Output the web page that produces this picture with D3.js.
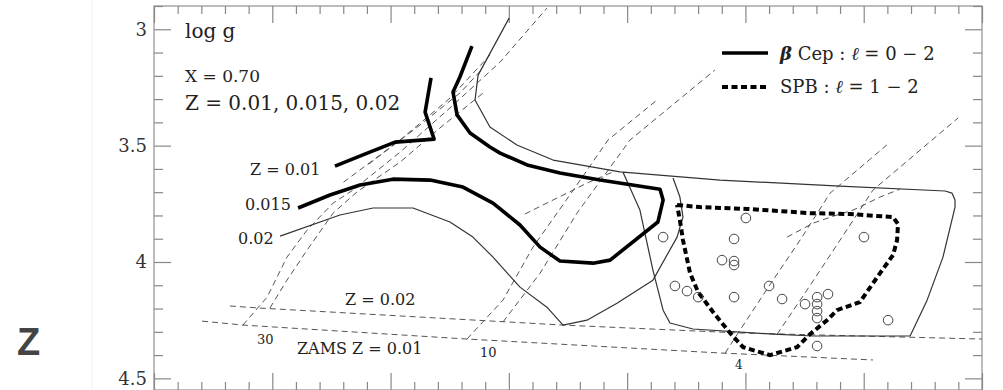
<!DOCTYPE html>
<html><head><meta charset="utf-8">
<script src="https://cdn.jsdelivr.net/npm/d3@7"></script>
<style>
html,body{margin:0;padding:0;background:#fff;}
svg{display:block;}
</style></head>
<body>
<svg id="chart" width="1003" height="390"></svg>
<script>
// ---- data (log Teff, log g) ----
const yMajorTicks = [3, 3.5, 4, 4.5];
const yTickLabels = ["3", "3.5", "4", "4.5"];
const xMajorTicks = [4.5, 4.45, 4.4, 4.35, 4.3, 4.25, 4.2, 4.15];

// beta Cep instability domains (l = 0-2), thick solid
const betaCepZ010 = [[4.4235,3.588],[4.4117,3.540],[4.3981,3.485],[4.3816,3.472],[4.3854,3.356],[4.3829,3.209]];
const betaCepZ015 = [[4.4391,3.768],[4.4256,3.712],[4.4129,3.669],[4.3990,3.644],[4.3833,3.648],[4.3694,3.678],[4.3567,3.747],[4.3453,3.841],[4.3368,3.936],[4.3284,3.996],[4.3144,4.005],[4.3072,3.992],[4.2870,3.828],[4.2848,3.734],[4.2861,3.687],[4.3115,3.648],[4.3284,3.618],[4.3423,3.583],[4.3537,3.532],[4.3580,3.506],[4.3664,3.446],[4.3719,3.368],[4.3736,3.270],[4.3707,3.205],[4.3656,3.072]];
// Z = 0.02 domains, thin solid
const betaCepZ020 = [[4.4467,3.889],[4.4214,3.798],[4.4074,3.768],[4.3905,3.768],[4.3749,3.828],[4.3652,3.893],[4.3567,3.979],[4.3453,4.108],[4.3339,4.194],[4.3271,4.271],[4.3170,4.250],[4.3043,4.177],[4.2891,4.078],[4.2789,3.893],[4.2764,3.807],[4.2777,3.721],[4.2806,3.639]];
const thinZ020Outer = [[4.3499,2.952],[4.3630,3.197],[4.3643,3.304],[4.3580,3.420],[4.3466,3.497],[4.3313,3.562],[4.3030,3.613],[4.2607,3.648],[4.2100,3.674],[4.1656,3.695],[4.1627,3.704],[4.1614,3.734],[4.1614,3.764],[4.1665,3.979],[4.1732,4.164],[4.1804,4.318],[4.2214,4.318],[4.2383,4.310],[4.2722,4.288],[4.2819,4.262],[4.2848,4.207],[4.2891,4.035],[4.2946,3.777],[4.3018,3.613]];
// SPB domain (l = 1-2), thick dashed
const spbDomain = [[4.2789,3.755],[4.2692,3.764],[4.2493,3.772],[4.2227,3.790],[4.2058,3.794],[4.1876,3.807],[4.1855,3.837],[4.1859,3.906],[4.1876,3.970],[4.1931,4.048],[4.2016,4.172],[4.2113,4.207],[4.2155,4.250],[4.2227,4.310],[4.2282,4.366],[4.2396,4.400],[4.2510,4.366],[4.2565,4.305],[4.2637,4.215],[4.2700,4.129],[4.2734,4.048],[4.2764,3.906],[4.2777,3.820],[4.2789,3.755]];
// ZAMS lines
const zamsZ010 = [[4.4797,4.254],[4.4624,4.271],[4.3677,4.331],[4.2607,4.391],[4.1961,4.421]];
const zamsZ020 = [[4.4679,4.189],[4.4552,4.198],[4.3271,4.271],[4.2523,4.305],[4.1500,4.331]];
// evolutionary tracks (dashed)
const track30a = [[4.4624,4.271],[4.4522,4.151],[4.4438,3.979],[4.4353,3.863],[4.4243,3.747],[4.4159,3.691],[4.3960,3.528],[4.3749,3.338],[4.3537,3.141],[4.3339,2.909]];
const track30b = [[4.4510,4.198],[4.4438,4.078],[4.4353,3.949],[4.4243,3.790],[4.4142,3.699],[4.3960,3.571],[4.3791,3.424],[4.3609,3.274]];
const track30c = [[4.4199,3.657],[4.3960,3.476],[4.3749,3.296],[4.3580,3.111]];
const track30d = [[4.4093,3.580],[4.3876,3.412],[4.3707,3.274],[4.3609,3.167]];
const track10a = [[4.3677,4.331],[4.3525,4.164],[4.3398,3.936],[4.3242,3.712],[4.3081,3.476],[4.2874,3.304]];
const track10b = [[4.3525,4.258],[4.3368,4.048],[4.3212,3.790],[4.2988,3.476],[4.2629,3.175]];
const hook10 = [[4.3432,3.794],[4.3356,3.755],[4.3254,3.704],[4.3170,3.661],[4.3060,3.613]];
const track4a = [[4.2586,4.391],[4.2523,4.293],[4.2400,4.103],[4.2269,3.906],[4.2142,3.704],[4.1902,3.497]];
const track4b = [[4.2366,4.310],[4.2240,4.121],[4.2100,3.906],[4.1961,3.691],[4.1601,3.381]];
const hook4 = [[4.2324,3.893],[4.2214,3.833],[4.2113,3.798],[4.2045,3.777],[4.1931,3.721],[4.1847,3.687]];
// observed stars (open circles)
const stars = [[4.2848,3.893],[4.2498,3.811],[4.2548,3.901],[4.2599,3.992],[4.2548,3.996],[4.2548,4.013],[4.2798,4.103],[4.2747,4.125],[4.2700,4.151],[4.2548,4.151],[4.2400,4.103],[4.2345,4.159],[4.2248,4.181],[4.2197,4.151],[4.2197,4.181],[4.2197,4.211],[4.2197,4.241],[4.2151,4.138],[4.1999,3.893],[4.1897,4.250],[4.2197,4.361]];

// ---- drawing ----
const svg = d3.select("#chart");
const L = 154, R = 982, T = 6, B = 390;
const x = d3.scaleLinear().domain([4.5, 4.15]).range([L, R]);
const y = d3.scaleLinear().domain([2.9, 4.55]).range([T, B]);
const serif = "'DejaVu Serif', serif";

// faint page edge + big Z
svg.append("line").attr("x1", 92).attr("x2", 92).attr("y1", 0).attr("y2", 390)
  .attr("stroke", "#f0f0f0").attr("stroke-width", 1);
svg.append("text").attr("x", 17).attr("y", 355).text("Z")
  .attr("font-family", "'Liberation Sans', Arial, sans-serif").attr("font-weight", "bold")
  .attr("font-size", 38).attr("fill", "#444");

// frame
svg.append("rect").attr("x", L).attr("y", T).attr("width", R - L).attr("height", B - T)
  .attr("fill", "none").attr("stroke", "#999").attr("stroke-width", 1.3);

const yMinor = d3.range(30, 455, 10).map(v => v / 100).filter(v => !yMajorTicks.includes(v));
const xMinor = d3.range(415, 450, 1).map(v => v / 100).filter(v => !xMajorTicks.some(m => Math.abs(m - v) < 1e-9));

function styleAxis(g) {
  g.select(".domain").remove();
  g.selectAll(".tick line").attr("stroke", "#888").attr("stroke-width", 1.2);
  g.selectAll(".tick text").attr("font-family", serif).attr("font-size", 18).attr("fill", "#333");
}
const fmt = d => yTickLabels[yMajorTicks.indexOf(d)];
svg.append("g").attr("transform", `translate(${L},0)`)
  .call(d3.axisLeft(y).tickValues(yMajorTicks).tickSize(-17).tickPadding(7).tickFormat(fmt)).call(styleAxis);
svg.append("g").attr("transform", `translate(${L},0)`)
  .call(d3.axisLeft(y).tickValues(yMinor).tickSize(-9).tickFormat("")).call(styleAxis);
svg.append("g").attr("transform", `translate(${R},0)`)
  .call(d3.axisRight(y).tickValues(yMajorTicks).tickSize(-17).tickFormat("")).call(styleAxis);
svg.append("g").attr("transform", `translate(${R},0)`)
  .call(d3.axisRight(y).tickValues(yMinor).tickSize(-9).tickFormat("")).call(styleAxis);
svg.append("g").attr("transform", `translate(0,${T})`)
  .call(d3.axisTop(x).tickValues(xMajorTicks).tickSize(-17).tickFormat("")).call(styleAxis);
svg.append("g").attr("transform", `translate(0,${T})`)
  .call(d3.axisTop(x).tickValues(xMinor).tickSize(-8).tickFormat("")).call(styleAxis);
svg.append("g").attr("transform", `translate(0,${B})`)
  .call(d3.axisBottom(x).tickValues(xMajorTicks).tickSize(-17).tickFormat("")).call(styleAxis);
svg.append("g").attr("transform", `translate(0,${B})`)
  .call(d3.axisBottom(x).tickValues(xMinor).tickSize(-8).tickFormat("")).call(styleAxis);

const line = d3.line().x(d => x(d[0])).y(d => y(d[1]));
const plot = svg.append("g");

// dashed thin lines
[zamsZ010, zamsZ020, track30a, track30b, track30c, track30d, track10a, track10b, hook10, track4a, track4b, hook4]
  .forEach(d => plot.append("path").attr("d", line(d)).attr("fill", "none")
    .attr("stroke", "#555").attr("stroke-width", 1).attr("stroke-dasharray", "6,4"));

// thin solid
[betaCepZ020, thinZ020Outer].forEach(d => plot.append("path").attr("d", line(d)).attr("fill", "none")
  .attr("stroke", "#333").attr("stroke-width", 1.2).attr("stroke-linejoin", "round"));

// thick solid
[betaCepZ010, betaCepZ015].forEach(d => plot.append("path").attr("d", line(d)).attr("fill", "none")
  .attr("stroke", "#000").attr("stroke-width", 3.6).attr("stroke-linejoin", "round"));

// SPB thick dashed
plot.append("path").attr("d", line(spbDomain)).attr("fill", "none")
  .attr("stroke", "#000").attr("stroke-width", 4).attr("stroke-dasharray", "6,3.5");

// stars
plot.selectAll("circle.star").data(stars).join("circle").attr("class", "star")
  .attr("cx", d => x(d[0])).attr("cy", d => y(d[1])).attr("r", 4.8)
  .attr("fill", "none").attr("stroke", "#444").attr("stroke-width", 1);

// annotations
function txt(xp, yp, s, size) {
  return svg.append("text").attr("x", xp).attr("y", yp).text(s)
    .attr("font-family", serif).attr("font-size", size).attr("fill", "#222");
}
txt(185, 38, "log g", 20);
txt(185, 82, "X = 0.70", 17);
txt(185, 110, "Z = 0.01, 0.015, 0.02", 20);
txt(250, 175, "Z = 0.01", 16);
txt(245, 210, "0.015", 16);
txt(238, 244, "0.02", 16);
txt(345, 305, "Z = 0.02", 16);
txt(257, 344, "30", 13);
txt(297, 354, "ZAMS  Z = 0.01", 16);
txt(480, 357, "10", 13);
txt(735, 369, "4", 12);

// legend
svg.append("line").attr("x1", 722).attr("x2", 768).attr("y1", 53).attr("y2", 53)
  .attr("stroke", "#000").attr("stroke-width", 3.6);
svg.append("line").attr("x1", 722).attr("x2", 768).attr("y1", 87).attr("y2", 87)
  .attr("stroke", "#000").attr("stroke-width", 4).attr("stroke-dasharray", "6,3.5");
const t1 = txt(780, 60, "", 18);
t1.append("tspan").text("β").attr("font-weight", "bold").attr("font-style", "italic");
t1.append("tspan").text(" Cep : ");
t1.append("tspan").text("ℓ").attr("font-style", "italic");
t1.append("tspan").text(" = 0 − 2");
const t2 = txt(780, 93, "", 18);
t2.append("tspan").text("SPB : ");
t2.append("tspan").text("ℓ").attr("font-style", "italic");
t2.append("tspan").text(" = 1 − 2");
</script>
</body></html>
